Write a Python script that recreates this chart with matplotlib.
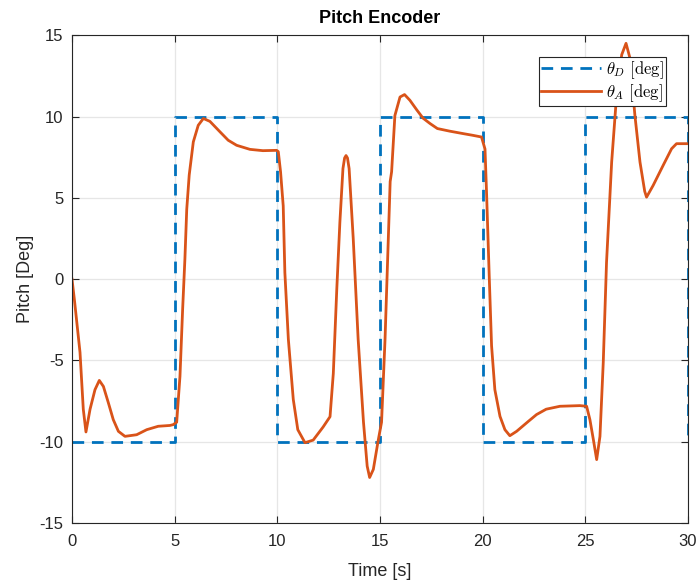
import matplotlib
matplotlib.use("Agg")
import matplotlib.pyplot as plt

# Desired pitch (step reference)
t_des = [0, 5, 5, 10, 10, 15, 15, 20, 20, 25, 25, 30, 30]
y_des = [-10, -10, 10, 10, -10, -10, 10, 10, -10, -10, 10, 10, -10]

t_act = [0, 0.12, 0.39, 0.55, 0.68, 0.88, 1.12, 1.33, 1.53, 1.77, 2.01, 2.26, 2.58, 3.15, 3.64, 4.2, 4.77, 4.93,
         5.1, 5.26, 5.39, 5.5, 5.59, 5.71, 5.91, 6.15, 6.4, 6.72, 7.2, 7.61, 8.02, 8.67, 9.3, 9.97,
         10.05, 10.16, 10.29, 10.37, 10.54, 10.78, 11.0, 11.35, 11.75, 12.23, 12.57, 12.73, 12.9, 13.05, 13.2,
         13.28, 13.35, 13.42, 13.5, 13.7, 13.94, 14.2, 14.38, 14.5, 14.68, 14.92, 15.08, 15.25, 15.5,
         15.57, 15.73, 15.98, 16.2, 16.46, 16.8, 17.1, 17.44, 17.8, 18.4, 19.05, 19.5, 19.95,
         20.12, 20.2, 20.33, 20.44, 20.6, 20.85, 21.09, 21.33, 21.66, 22.23, 22.63, 23.1, 23.77, 24.74, 25.07,
         25.23, 25.4, 25.56, 25.72, 25.88, 26.04, 26.29, 26.53, 26.78, 26.99, 27.18, 27.42, 27.67, 27.9,
         27.99, 28.31, 28.8, 29.21, 29.45, 30.0]
y_act = [0, -1.3, -4.5, -8.0, -9.4, -8.0, -6.8, -6.23, -6.6, -7.6, -8.64, -9.36, -9.67, -9.57, -9.26, -9.05, -9.0, -8.95,
         -8.8, -5.97, -1.85, 1.23, 4.3, 6.4, 8.44, 9.46, 9.88, 9.7, 9.07, 8.54, 8.23, 7.98, 7.9, 7.92,
         7.84, 6.6, 4.5, 0.4, -3.7, -7.4, -9.26, -10.06, -9.9, -9.1, -8.46, -5.8, -0.6, 3.5, 6.8,
         7.45, 7.6, 7.45, 6.8, 2.5, -3.7, -8.8, -11.5, -12.2, -11.7, -9.9, -8.8, -3.7, 6.0,
         6.6, 10.06, 11.2, 11.35, 11.0, 10.4, 9.9, 9.57, 9.26, 9.1, 8.95, 8.85, 8.74,
         8.0, 5.14, 0.0, -4.1, -6.8, -8.44, -9.26, -9.63, -9.36, -8.75, -8.33, -8.0, -7.82, -7.78, -7.82,
         -8.64, -9.88, -11.1, -9.67, -5.14, 1.03, 7.2, 11.3, 13.8, 14.5, 13.6, 10.1, 7.2, 5.4,
         5.04, 5.76, 7.0, 8.02, 8.33, 8.33]

xticks = [0, 5, 10, 15, 20, 25, 30]
yticks = [-15, -10, -5, 0, 5, 10, 15]

plt.rcParams['font.family'] = ['Liberation Sans', 'DejaVu Sans']
plt.rcParams['mathtext.fontset'] = 'cm'

fig = plt.figure(figsize=(6.99, 5.87), dpi=100)
ax = fig.add_axes([0.103, 0.109, 0.881, 0.831])

ax.plot(t_des, y_des, color='#0072BD', linestyle=(0, (4.2, 2.8)), linewidth=2.0,
        label=r'$\theta_D\ \mathrm{[deg]}$')
ax.plot(t_act, y_act, color='#D95319', linewidth=2.0, label=r'$\theta_A\ \mathrm{[deg]}$')

ax.set_xlim(0, 30)
ax.set_ylim(-15, 15)
ax.set_xticks(xticks)
ax.set_yticks(yticks)
ax.set_xticklabels([str(v) for v in xticks])
ax.set_yticklabels([str(v) for v in yticks])
ax.grid(True, color='#e6e6e6', linewidth=0.9)
ax.set_axisbelow(True)
ax.tick_params(direction='in', length=5, labelsize=12, color='#262626', labelcolor='#262626',
               top=True, right=True, width=0.8)
ax.tick_params(axis='x', pad=8)
ax.tick_params(axis='y', pad=6)
for s in ax.spines.values():
    s.set_color('#262626')
    s.set_linewidth(0.8)

ax.set_xlabel('Time [s]', fontsize=13, color='#262626', labelpad=10)
ax.set_ylabel('Pitch [Deg]', fontsize=13, color='#262626', labelpad=4)
ax.set_title('Pitch Encoder', fontsize=13, fontweight='bold', pad=9)

leg = ax.legend(loc='upper right', fontsize=12, fancybox=False, framealpha=1,
                edgecolor='#262626', handlelength=3.6, borderpad=0.15, labelspacing=0.05,
                handletextpad=0.3, borderaxespad=1.3)
leg.get_frame().set_linewidth(0.8)

fig.savefig('out.png', dpi=100)
